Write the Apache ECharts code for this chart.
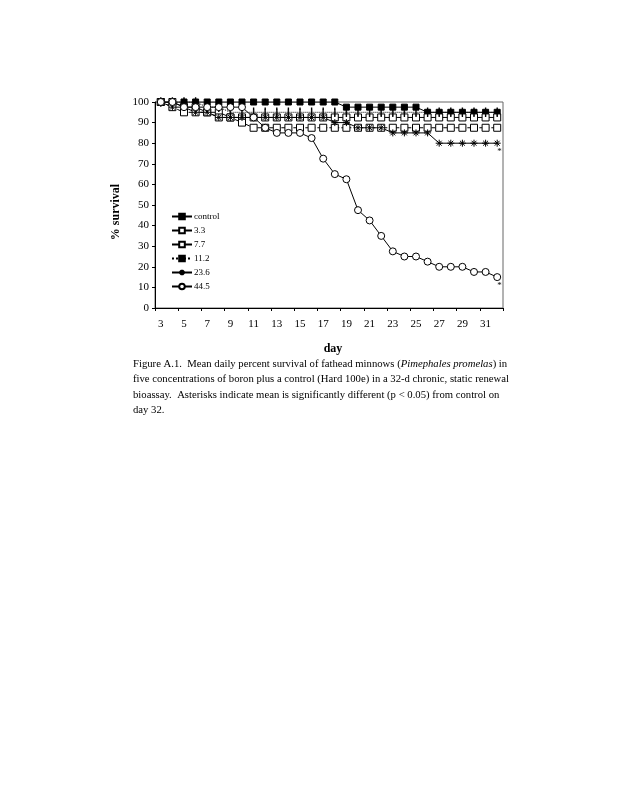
<!DOCTYPE html>
<html><head><meta charset="utf-8">
<script src="https://cdn.jsdelivr.net/npm/echarts@6/dist/echarts.min.js"></script>
<style>html,body{margin:0;padding:0;background:#fff}#c{width:619px;height:800px}</style>
</head><body><div id="c"></div>
<script>
// Data (days 3..32)
const days = [3,4,5,6,7,8,9,10,11,12,13,14,15,16,17,18,19,20,21,22,23,24,25,26,27,28,29,30,31,32];
const control = [100,100,100,100,100,100,100,100,100,100,100,100,100,100,100,100,97.5,97.5,97.5,97.5,97.5,97.5,97.5,95,95,95,95,95,95,95];
const c3_3   = [100,100,97.5,97.5,95,95,92.5,92.5,92.5,92.5,92.5,92.5,92.5,92.5,92.5,92.5,92.5,92.5,92.5,92.5,92.5,92.5,92.5,92.5,92.5,92.5,92.5,92.5,92.5,92.5];
const c7_7   = [100,97.5,95,95,95,92.5,92.5,90,87.5,87.5,87.5,87.5,87.5,87.5,87.5,87.5,87.5,87.5,87.5,87.5,87.5,87.5,87.5,87.5,87.5,87.5,87.5,87.5,87.5,87.5];
const c11_2  = [100,100,100,100,97.5,97.5,95,95,95,95,95,95,95,95,95,95,95,95,95,95,95,95,95,95,95,95,95,95,95,95];
const c23_6  = [100,97.5,97.5,95,95,92.5,92.5,92.5,92.5,92.5,92.5,92.5,92.5,92.5,92.5,90,90,87.5,87.5,87.5,85,85,85,85,80,80,80,80,80,80];
const c44_5  = [100,100,97.5,97.5,97.5,97.5,97.5,97.5,92.5,87.5,85,85,85,82.5,72.5,65,62.5,47.5,42.5,35,27.5,25,25,22.5,20,20,20,17.5,17.5,15];
const yTicks = [0,10,20,30,40,50,60,70,80,90,100];
const seriesNames = ['control','3.3','7.7','11.2','23.6','44.5'];
const significant = ['23.6','44.5'];

const FONT = '"Liberation Serif", "DejaVu Serif", serif';
const asterisk = 'path://M5,0L5,10M0,5L10,5M1.5,1.5L8.5,8.5M8.5,1.5L1.5,8.5';

function mk(name, vals, sym, size, fill, lineType) {
  const data = vals.map((v, i) => {
    if (i === vals.length - 1 && significant.includes(name)) {
      return {value: v, label: {show: true, formatter: '*', position: [4, 8], color: '#000', fontSize: 9, fontFamily: FONT}};
    }
    return v;
  });
  return {
    name, type: 'line', data, symbol: sym, symbolSize: size, showSymbol: true,
    lineStyle: {color: '#000', width: 1, type: lineType},
    itemStyle: {color: fill, borderColor: '#000', borderWidth: 1},
    emphasis: {disabled: true}, animation: false
  };
}

const chart = echarts.init(document.getElementById('c'), null, {renderer: 'canvas'});
chart.setOption({
  backgroundColor: '#fff',
  animation: false,
  grid: {left: 155, top: 102, width: 348, height: 206, show: true, borderColor: '#666', borderWidth: 1, backgroundColor: 'transparent'},
  legend: {
    orient: 'vertical', left: 166, top: 207, itemWidth: 20, itemHeight: 7, itemGap: 5,
    data: seriesNames, selectedMode: false,
    textStyle: {fontFamily: FONT, fontSize: 9, color: '#000', lineHeight: 9, padding: [0,0,0,-3]}
  },
  xAxis: {
    type: 'category', data: days, boundaryGap: true,
    name: 'day', nameLocation: 'middle', nameGap: 35,
    nameTextStyle: {fontFamily: FONT, fontSize: 12, fontWeight: 'bold', color: '#000', padding: [0,0,0,8]},
    axisLine: {lineStyle: {color: '#000', width: 1}},
    axisTick: {show: true, interval: 1, length: 3, lineStyle: {color: '#000'}},
    axisLabel: {interval: 1, margin: 11, fontFamily: FONT, fontSize: 11, color: '#000'},
    splitLine: {show: false}
  },
  yAxis: {
    type: 'value', min: 0, max: 100, interval: 10,
    name: '% survival', nameLocation: 'middle', nameGap: 23, nameRotate: 90,
    nameTextStyle: {fontFamily: FONT, fontSize: 12, fontWeight: 'bold', color: '#000', padding: [0,0,0,-14]},
    axisLine: {show: true, lineStyle: {color: '#000', width: 1}},
    axisTick: {show: true, length: 3, lineStyle: {color: '#000'}},
    axisLabel: {margin: 6, fontFamily: FONT, fontSize: 11, color: '#000',
      formatter: v => yTicks.includes(v) ? String(v) : ''},
    splitLine: {show: false}
  },
  series: [
    mk('control', control, 'rect', 6, '#000', 'solid'),
    mk('3.3', c3_3, 'rect', 7, '#fff', 'solid'),
    mk('7.7', c7_7, 'rect', 7, '#fff', 'dashed'),
    mk('11.2', c11_2, 'rect', [1, 7], '#000', 'dotted'),
    mk('23.6', c23_6, asterisk, 7, '#000', 'solid'),
    mk('44.5', c44_5, 'circle', 7, '#fff', 'solid')
  ],
  graphic: [{
    type: 'text', left: 133, top: 356,
    style: {
      text: 'Figure A.1.  Mean daily percent survival of fathead minnows ({i|Pimephales promelas}) in\nfive concentrations of boron plus a control (Hard 100e) in a 32-d chronic, static renewal\nbioassay.  Asterisks indicate mean is significantly different (p < 0.05) from control on\nday 32.',
      fontFamily: FONT, fontSize: 10.7, lineHeight: 15.5, fill: '#000',
      rich: {i: {fontStyle: 'italic', fontFamily: FONT, fontSize: 10.7, lineHeight: 15.5}}
    }
  }]
});
</script></body></html>
